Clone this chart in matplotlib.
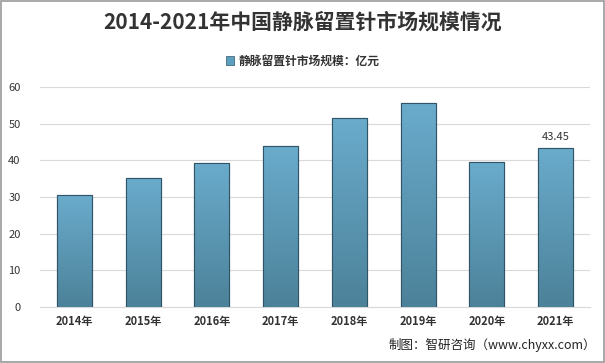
import numpy as np
import matplotlib.pyplot as plt
from matplotlib.patches import Rectangle
from matplotlib.colors import LinearSegmentedColormap

plt.rcParams['font.family'] = ['Noto Sans CJK SC', 'DejaVu Sans']

years = ['2014年', '2015年', '2016年', '2017年', '2018年', '2019年', '2020年', '2021年']
market = [30.5, 35.2, 39.3, 43.9, 51.5, 55.6, 39.5, 43.45]

fig = plt.figure(figsize=(6.05, 3.63), dpi=100)
ax = fig.add_axes([40/605, 1 - 307/363, 550/605, 220/363])

x = np.arange(len(years))
bars = ax.bar(x, market, 0.51, color='#5d9fbf', edgecolor='#2f5567', linewidth=0.8,
              zorder=3, label='静脉留置针市场规模：亿元')

# vertical gradient inside each bar, light at top, darker at bottom
grad = np.linspace(0, 1, 256).reshape(-1, 1)
cmap = LinearSegmentedColormap.from_list('b', ['#4c8299', '#6aabcc'])
for b in bars:
    x0, w, h = b.get_x(), b.get_width(), b.get_height()
    im = ax.imshow(grad, cmap=cmap, aspect='auto', origin='lower',
                   extent=[x0, x0 + w, 0, h], zorder=3.5)
    im.set_clip_path(b)
    ax.add_patch(Rectangle((x0, 0), w, h, fill=False, edgecolor='#2f5567',
                           linewidth=0.8, zorder=4))

ax.set_xlim(-0.5, len(years) - 0.5)
ax.set_ylim(0, 60)
ax.set_yticks(range(0, 61, 10))
ax.set_xticks(x)
ax.set_xticklabels(years, fontsize=8, fontweight='bold', color='#333333')
ax.tick_params(axis='y', labelsize=8, colors='#333333', length=0, pad=14)
ax.tick_params(axis='x', length=0, pad=6)
ax.grid(axis='y', color='#d9d9d9', linewidth=0.8, zorder=0)
for s in ['top', 'right', 'left']:
    ax.spines[s].set_visible(False)
ax.spines['bottom'].set_color('#d9d9d9')

ax.text(x[-1], market[-1] + 1.5, '%.2f' % market[-1], ha='center', va='bottom',
        fontsize=8, color='#333333')

fig.text(0.5, 1 - 22/363, '2014-2021年中国静脉留置针市场规模情况', ha='center', va='center',
         fontsize=15, fontweight='bold', color='#333333')
leg = fig.legend(handles=[Rectangle((0, 0), 1, 1, facecolor='#5d9fbf', edgecolor='#2f5567', linewidth=0.5)],
                 labels=['静脉留置针市场规模：亿元'], loc='center', bbox_to_anchor=(0.5, 1 - 61/363),
                 frameon=False, fontsize=8.5, handlelength=0.7, handleheight=0.7, handletextpad=0.4)
for t in leg.get_texts():
    t.set_fontweight('bold')
    t.set_color('#333333')

fig.text(0.985, 1 - 345/363, '制图：智研咨询（www.chyxx.com）', ha='right', va='center',
         fontsize=9, color='#222222')

fig.patches.append(Rectangle((0.002, 0.003), 0.996, 0.994, transform=fig.transFigure,
                             fill=False, edgecolor='#9a9a9a', linewidth=1.2))

fig.savefig('out.png', dpi=100)
